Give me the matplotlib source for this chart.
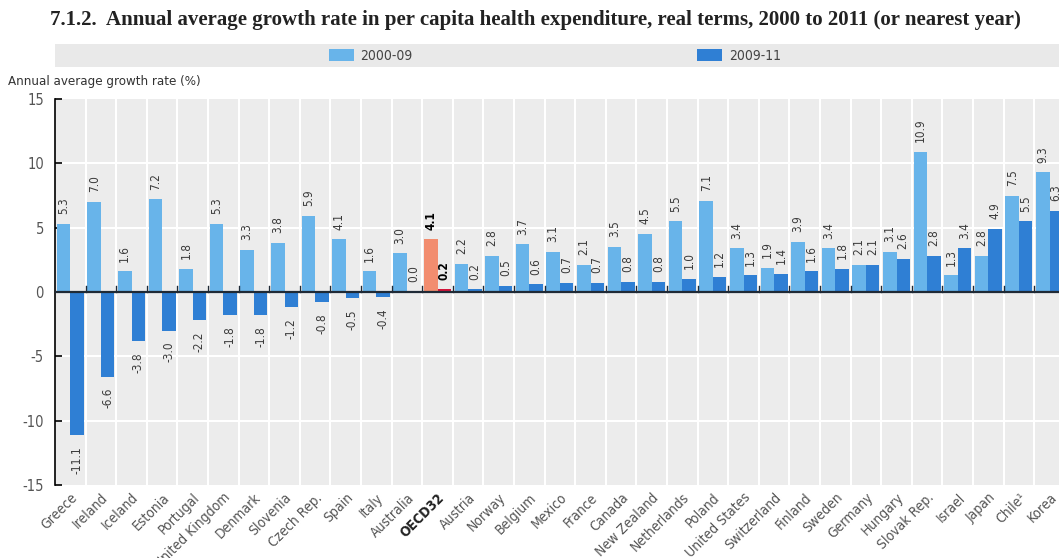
import matplotlib
matplotlib.use("Agg")
import matplotlib.pyplot as plt
import numpy as np
from matplotlib.patches import Rectangle, Patch

countries = ["Greece", "Ireland", "Iceland", "Estonia", "Portugal", "United Kingdom",
             "Denmark", "Slovenia", "Czech Rep.", "Spain", "Italy", "Australia", "OECD32",
             "Austria", "Norway", "Belgium", "Mexico", "France", "Canada", "New Zealand",
             "Netherlands", "Poland", "United States", "Switzerland", "Finland", "Sweden",
             "Germany", "Hungary", "Slovak Rep.", "Israel", "Japan", "Chile¹", "Korea"]
growth_2000_09 = [5.3, 7.0, 1.6, 7.2, 1.8, 5.3, 3.3, 3.8, 5.9, 4.1, 1.6, 3.0, 4.1,
                  2.2, 2.8, 3.7, 3.1, 2.1, 3.5, 4.5, 5.5, 7.1, 3.4, 1.9, 3.9, 3.4,
                  2.1, 3.1, 10.9, 1.3, 2.8, 7.5, 9.3]
growth_2009_11 = [-11.1, -6.6, -3.8, -3.0, -2.2, -1.8, -1.8, -1.2, -0.8, -0.5, -0.4, 0.0, 0.2,
                  0.2, 0.5, 0.6, 0.7, 0.7, 0.8, 0.8, 1.0, 1.2, 1.3, 1.4, 1.6, 1.8,
                  2.1, 2.6, 2.8, 3.4, 4.9, 5.5, 6.3]
yticks = [-15, -10, -5, 0, 5, 10, 15]
highlight = "OECD32"

plt.rcParams["font.family"] = ["DejaVu Sans"]
plt.rcParams["font.stretch"] = "condensed"

C_LIGHT = "#68b4ea"
C_DARK = "#2f7fd4"
C_HL_LIGHT = "#f28d6f"
C_HL_DARK = "#d2143a"

fig = plt.figure(figsize=(10.59, 5.58), dpi=100)
W, H = 1059, 558

ax = fig.add_axes([55 / W, 1 - 485 / H, 1 - 55 / W, (485 - 99) / H])
ax.set_facecolor("#ececec")

n = len(countries)
x = np.arange(n)
bw = 0.44
light_cols = [C_HL_LIGHT if c == highlight else C_LIGHT for c in countries]
dark_cols = [C_HL_DARK if c == highlight else C_DARK for c in countries]
ax.bar(x - bw / 2, growth_2000_09, width=bw, color=light_cols, zorder=3)
ax.bar(x + bw / 2, growth_2009_11, width=bw, color=dark_cols, zorder=3)

# gridlines
bounds = np.arange(0.5, n, 1.0)
for b in bounds:
    ax.axvline(b, color="white", lw=1.5, zorder=1)
for yv in [-10, -5, 5, 10]:
    ax.axhline(yv, color="white", lw=1.5, zorder=1)
ax.axhline(0, color="#1f2a36", lw=1.6, zorder=4)
for b in bounds:
    ax.plot([b, b], [0, 0.45], color="#1f2a36", lw=1.0, zorder=4)

# data labels
for i, c in enumerate(countries):
    bold = "bold" if c == highlight else "normal"
    col = "black" if c == highlight else "#3a3a3a"
    for v, off in [(growth_2000_09[i], -bw / 2), (growth_2009_11[i], bw / 2)]:
        if v >= 0:
            ax.annotate(f"{v:.1f}", (i + off, v), xytext=(0, 7), textcoords="offset points",
                        rotation=90, ha="center", va="bottom", fontsize=8.5, color=col,
                        fontweight=bold, zorder=5)
        else:
            ax.annotate(f"{v:.1f}", (i + off, v), xytext=(0, -8), textcoords="offset points",
                        rotation=90, ha="center", va="top", fontsize=8.5, color=col,
                        fontweight=bold, zorder=5)

ax.set_xlim(-0.5, -0.5 + (W - 55) / 30.6)
ax.set_ylim(-15, 15)
ax.set_yticks(yticks)
ax.set_yticklabels([str(t) for t in yticks])
ax.tick_params(axis="y", direction="in", length=5, width=1.2, color="black",
               labelsize=10.5, labelcolor="#555555", pad=8)
ax.set_xticks(x)
ax.set_xticklabels(countries, rotation=45, ha="right", rotation_mode="anchor",
                   fontsize=10, color="#555555")
for lbl in ax.get_xticklabels():
    if lbl.get_text() == highlight:
        lbl.set_fontweight("bold")
        lbl.set_color("#222222")
ax.tick_params(axis="x", length=0, pad=4)
for s in ["top", "right", "bottom"]:
    ax.spines[s].set_visible(False)
ax.spines["left"].set_color("black")
ax.spines["left"].set_linewidth(1.2)

# title
fig.text(50 / W, 1 - 20 / H,
         "7.1.2.  Annual average growth rate in per capita health expenditure, real terms, 2000 to 2011 (or nearest year)",
         family=["Liberation Serif", "DejaVu Serif"], fontstretch="normal", fontweight="bold",
         fontsize=15, va="center", ha="left", color="#222222")

# legend band
fig.patches.append(Rectangle((55 / W, 1 - 67 / H), 1 - 55 / W, 23 / H, transform=fig.transFigure,
                             facecolor="#e9e9e9", edgecolor="none", zorder=0))
handles = [Patch(facecolor=C_LIGHT), Patch(facecolor=C_DARK)]
fig.legend(handles, ["2000-09", "2009-11"], loc="center", ncol=2,
           bbox_to_anchor=(555 / W, 1 - 56 / H), frameon=False, fontsize=10,
           columnspacing=20.5, handlelength=1.8, handleheight=1.0, handletextpad=0.5,
           labelcolor="#444444")

fig.text(8 / W, 1 - 81 / H, "Annual average growth rate (%)", fontsize=9.5, color="#333333",
         va="center", ha="left")

fig.savefig("out.png", dpi=100)
